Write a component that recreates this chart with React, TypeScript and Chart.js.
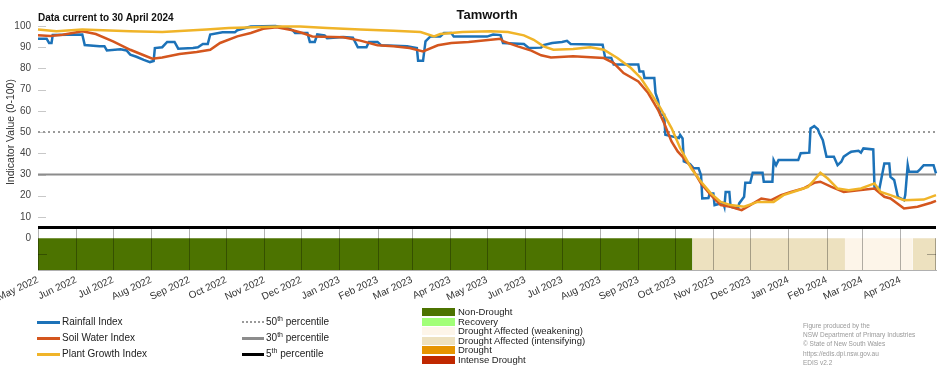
import React, { useEffect, useRef } from "react";
import { Chart, registerables } from "chart.js";
Chart.register(...registerables);

const FONT = "'Liberation Sans', Arial, Helvetica, sans-serif";
const START = Date.UTC(2022, 4, 1);
const dayOf = (s: string) => {
  const [y, m, d] = s.split("-").map(Number);
  return (Date.UTC(y, m - 1, d) - START) / 86400000;
};

const chartTitle = "Tamworth";
const subTitle = "Data current to 30 April 2024";
const yTitle = "Indicator Value (0-100)";
const xStart = "2022-05-01";
const xEnd = "2024-04-30";

const tickDates = [
  "2022-05-01", "2022-06-01", "2022-07-01", "2022-08-01", "2022-09-01", "2022-10-01",
  "2022-11-01", "2022-12-01", "2023-01-01", "2023-02-01", "2023-03-01", "2023-04-01",
  "2023-05-01", "2023-06-01", "2023-07-01", "2023-08-01", "2023-09-01", "2023-10-01",
  "2023-11-01", "2023-12-01", "2024-01-01", "2024-02-01", "2024-03-01", "2024-04-01",
];
const tickLabels = [
  "May 2022", "Jun 2022", "Jul 2022", "Aug 2022", "Sep 2022", "Oct 2022",
  "Nov 2022", "Dec 2022", "Jan 2023", "Feb 2023", "Mar 2023", "Apr 2023",
  "May 2023", "Jun 2023", "Jul 2023", "Aug 2023", "Sep 2023", "Oct 2023",
  "Nov 2023", "Dec 2023", "Jan 2024", "Feb 2024", "Mar 2024", "Apr 2024",
];
const yTicks = [0, 10, 20, 30, 40, 50, 60, 70, 80, 90, 100];

const rainfallDates = [
  "2022-05-01", "2022-05-08", "2022-05-10", "2022-05-12", "2022-05-13", "2022-06-06", "2022-06-08",
  "2022-06-20", "2022-06-24", "2022-06-26", "2022-07-07", "2022-07-12", "2022-07-15", "2022-07-20",
  "2022-07-26", "2022-07-31", "2022-08-03", "2022-08-04", "2022-08-10", "2022-08-14", "2022-08-20",
  "2022-08-23", "2022-09-04", "2022-09-08", "2022-09-12", "2022-09-16", "2022-09-18", "2022-09-28",
  "2022-10-08", "2022-10-10", "2022-10-21", "2022-11-10", "2022-11-20", "2022-11-24", "2022-11-26",
  "2022-12-06", "2022-12-08", "2022-12-12", "2022-12-14", "2022-12-20", "2022-12-22", "2023-01-04",
  "2023-01-12", "2023-01-16", "2023-01-23", "2023-01-25", "2023-02-01", "2023-02-04", "2023-02-25",
  "2023-03-05", "2023-03-06", "2023-03-10", "2023-03-12", "2023-03-16", "2023-03-24", "2023-03-27",
  "2023-04-02", "2023-04-04", "2023-05-01", "2023-05-06", "2023-05-12", "2023-05-14", "2023-05-31",
  "2023-06-04", "2023-06-14", "2023-06-16", "2023-06-23", "2023-07-01", "2023-07-05", "2023-07-08",
  "2023-08-03", "2023-08-05", "2023-08-10", "2023-08-12", "2023-09-01", "2023-09-02", "2023-09-05",
  "2023-09-06", "2023-09-14", "2023-09-15", "2023-09-17", "2023-09-19", "2023-09-22", "2023-09-23",
  "2023-10-04", "2023-10-05", "2023-10-07", "2023-10-08", "2023-10-13", "2023-10-16", "2023-10-20",
  "2023-10-22", "2023-10-23", "2023-10-28", "2023-10-29", "2023-11-01", "2023-11-02", "2023-11-09",
  "2023-11-10", "2023-11-11", "2023-11-14", "2023-11-15", "2023-11-21", "2023-11-22", "2023-11-26",
  "2023-11-27", "2023-12-01", "2023-12-03", "2023-12-11", "2023-12-12", "2023-12-19", "2023-12-20",
  "2023-12-22", "2023-12-24", "2024-01-09", "2024-01-11", "2024-01-18", "2024-01-19", "2024-01-22",
  "2024-01-25", "2024-01-26", "2024-01-29", "2024-02-01", "2024-02-07", "2024-02-10", "2024-02-13",
  "2024-02-15", "2024-02-19", "2024-02-21", "2024-02-27", "2024-02-29", "2024-03-02", "2024-03-10",
  "2024-03-11", "2024-03-15", "2024-03-19", "2024-03-23", "2024-03-24", "2024-03-27", "2024-03-30",
  "2024-04-04", "2024-04-05", "2024-04-07", "2024-04-08", "2024-04-15", "2024-04-17", "2024-04-20",
  "2024-04-28", "2024-04-30",
];
const rainfallValues = [
  94, 94, 92, 92, 95.8, 96, 91,
  90.5, 90.5, 88.5, 89, 88.5, 86.5, 85.5,
  84, 83, 83.5, 89.6, 90, 92.5, 92.5,
  89.3, 89.6, 90, 91.5, 91.5, 96, 97,
  97, 98, 99.8, 100, 99, 98, 96.7,
  96.7, 92.5, 92.5, 96, 95.5, 94.3, 94.8,
  94.5, 90, 90, 92.5, 92.5, 90.9, 90.4,
  89.6, 83.6, 83.6, 92.8, 95.1, 95.1, 96.7,
  96.7, 95, 95, 96, 95.7, 92, 91.5,
  89.6, 89.8, 91, 92, 92.5, 93, 91.5,
  91.2, 85.2, 85, 81.8, 81.8, 78.6, 78.6,
  75.5, 75.5, 68.4, 65, 58.2, 58.2, 48.7,
  47.2, 48.7, 47, 36.2, 35, 32.9, 32.9,
  29.7, 18.7, 18.9, 21, 21, 15.6, 16.7,
  14.8, 21.8, 21.8, 14.8, 14, 16.4, 19.5,
  26.1, 26.1, 30.8, 30.8, 26.6, 26.6, 36.8,
  34.4, 36.8, 36.8, 40, 40.3, 51.7, 52.8,
  51.3, 49.7, 46.2, 38.4, 38.4, 34.4, 36,
  38.4, 40, 40.7, 41.2, 40.3, 42.3, 41.8,
  24.2, 23.4, 35.2, 35.2, 28.9, 27.4, 19.5,
  17.9, 20.3, 34.4, 31.3, 31.3, 32.4, 34.4,
  34.4, 30.5,
];

const soilDates = [
  "2022-05-01", "2022-05-11", "2022-05-21", "2022-06-06", "2022-06-17", "2022-07-01", "2022-07-15",
  "2022-07-26", "2022-08-02", "2022-08-10", "2022-08-24", "2022-09-07", "2022-09-18", "2022-09-26",
  "2022-10-10", "2022-10-21", "2022-10-31", "2022-11-11", "2022-11-24", "2022-12-02", "2022-12-10",
  "2023-01-04", "2023-01-18", "2023-02-01", "2023-02-14", "2023-02-27", "2023-03-10", "2023-03-22",
  "2023-04-02", "2023-04-16", "2023-05-04", "2023-05-12", "2023-05-14", "2023-05-26", "2023-06-06",
  "2023-06-14", "2023-06-22", "2023-07-10", "2023-08-04", "2023-08-12", "2023-08-20", "2023-09-01",
  "2023-09-09", "2023-09-17", "2023-09-22", "2023-09-28", "2023-10-03", "2023-10-08", "2023-10-14",
  "2023-10-22", "2023-10-30", "2023-11-07", "2023-11-15", "2023-11-24", "2023-12-01", "2023-12-10",
  "2023-12-18", "2023-12-26", "2024-01-03", "2024-01-13", "2024-01-22", "2024-01-27", "2024-02-05",
  "2024-02-15", "2024-02-27", "2024-03-11", "2024-03-19", "2024-03-24", "2024-04-04", "2024-04-15",
  "2024-04-26", "2024-04-30",
];
const soilValues = [
  95.6, 95.3, 95.9, 97.5, 96.2, 92.8, 88.8,
  86.2, 84.6, 85.2, 86.8, 87.7, 88.8, 92,
  95.1, 96.7, 98.7, 99.4, 98, 96.7, 95.1,
  94.7, 93.1, 90.9, 90.4, 89.6, 88, 90.9,
  92, 92.5, 93.5, 94, 92.8, 90.4, 88.4,
  86.2, 85.2, 85.7, 84.9, 82.5, 77.8, 73.9,
  68.4, 60.5, 54.2, 45.6, 40.9, 37.7, 33.6,
  25.8, 20.3, 15.6, 14.8, 13.2, 15.6, 18.7,
  17.9, 20.3, 21.8, 23.4, 26.1, 26.6, 24.2,
  21.8, 22.6, 23.4, 19.5, 18.7, 14, 14.8,
  16.7, 17.6,
];

const plantDates = [
  "2022-05-01", "2022-05-16", "2022-06-06", "2022-07-15", "2022-08-10", "2022-09-15", "2022-10-03",
  "2022-10-31", "2022-11-14", "2022-11-30", "2022-12-22", "2023-01-18", "2023-02-14", "2023-03-08",
  "2023-03-19", "2023-03-24", "2023-04-11", "2023-05-04", "2023-05-18", "2023-05-31", "2023-06-08",
  "2023-06-16", "2023-06-24", "2023-07-10", "2023-07-24", "2023-08-04", "2023-08-15", "2023-08-26",
  "2023-09-03", "2023-09-11", "2023-09-19", "2023-09-28", "2023-10-05", "2023-10-11", "2023-10-14",
  "2023-10-22", "2023-10-30", "2023-11-07", "2023-11-15", "2023-11-26", "2023-12-07", "2023-12-20",
  "2023-12-28", "2024-01-09", "2024-01-17", "2024-01-22", "2024-01-27", "2024-02-02", "2024-02-10",
  "2024-02-19", "2024-02-29", "2024-03-11", "2024-03-16", "2024-03-24", "2024-04-04", "2024-04-20",
  "2024-04-30",
];
const plantValues = [
  98.3, 97.5, 98.3, 97.5, 97.2, 98.3, 99,
  99.5, 99.8, 99.8, 99, 98.3, 97.8, 97.2,
  95.1, 96.2, 97.2, 97.5, 97.2, 95.6, 93.5,
  90.4, 88.8, 89.2, 90, 88.8, 84.9, 80.2,
  75.5, 68.4, 61.3, 51.9, 42.5, 36.2, 32.9,
  26.6, 21.1, 17.1, 15.6, 14.8, 17.1, 17.1,
  20.3, 22.6, 24.2, 27.4, 30.8, 28.1, 23.4,
  22.6, 23.4, 25.8, 21.8, 20.3, 17.9, 18.2,
  20.3,
];

const percentileValues = [50, 30, 5];
const percentileLabels = ["50", "30", "5"];

const droughtStarts = ["2022-05-01", "2023-10-15", "2024-02-16", "2024-04-11"];
const droughtEnds = ["2023-10-15", "2024-02-16", "2024-04-11", "2024-04-30"];
const droughtSegCategories = [
  "Non-Drought",
  "Drought Affected (intensifying)",
  "Drought Affected (weakening)",
  "Drought Affected (intensifying)",
];
const droughtBarTop = 0;
const droughtBarBottom = -15;

const categoryNames = [
  "Non-Drought",
  "Recovery",
  "Drought Affected (weakening)",
  "Drought Affected (intensifying)",
  "Drought",
  "Intense Drought",
];
const categoryColors = ["#4c7300", "#a2ff78", "#fdf5e9", "#ede1bf", "#e69400", "#c02800"];

const seriesNames = ["Rainfall Index", "Soil Water Index", "Plant Growth Index"];
const seriesColors = ["#1c72b8", "#d4561e", "#f0b429"];

const creditLines = [
  "Figure produced by the",
  "NSW Department of Primary Industries",
  "\u00a9 State of New South Wales",
  "https://edis.dpi.nsw.gov.au",
  "EDIS v2.2",
];

const toPts = (dates: string[], vals: number[]) => dates.map((d, i) => ({ x: dayOf(d), y: vals[i] }));

const decorPlugin = {
  id: "decor",
  beforeDatasetsDraw(chart: any) {
    const { ctx, chartArea, scales } = chart;
    const y = scales.y;
    ctx.save();
    ctx.strokeStyle = "#c8c8c8";
    ctx.lineWidth = 1;
    for (const v of yTicks) {
      if (v === 0) continue;
      const py = Math.round(y.getPixelForValue(v)) + 0.5;
      ctx.beginPath();
      ctx.moveTo(chartArea.left, py);
      ctx.lineTo(chartArea.left + 8, py);
      ctx.stroke();
    }
    ctx.restore();
  },
  afterDatasetsDraw(chart: any) {
    const { ctx, chartArea, scales } = chart;
    const x = scales.x;
    const y = scales.y;
    ctx.save();
    const top = y.getPixelForValue(5) + 1.5;
    const bot = y.getPixelForValue(droughtBarBottom);
    ctx.strokeStyle = "rgba(0,0,0,0.3)";
    ctx.lineWidth = 1;
    for (const d of tickDates) {
      const px = Math.round(x.getPixelForValue(dayOf(d))) + 0.5;
      ctx.beginPath();
      ctx.moveTo(px, top);
      ctx.lineTo(px, bot);
      ctx.stroke();
    }
    const pr = Math.round(chartArea.right) - 0.5;
    ctx.beginPath();
    ctx.moveTo(pr, y.getPixelForValue(droughtBarTop));
    ctx.lineTo(pr, bot);
    ctx.stroke();
    const mid = Math.round(y.getPixelForValue((droughtBarTop + droughtBarBottom) / 2)) + 0.5;
    ctx.beginPath();
    ctx.moveTo(chartArea.left, mid);
    ctx.lineTo(chartArea.left + 9, mid);
    ctx.moveTo(chartArea.right - 9, mid);
    ctx.lineTo(chartArea.right, mid);
    ctx.stroke();
    ctx.restore();
  },
  afterDraw(chart: any) {
    const { ctx, chartArea, scales } = chart;
    const y = scales.y;
    ctx.save();
    ctx.fillStyle = "#111";
    ctx.textBaseline = "middle";
    ctx.font = `bold 13px ${FONT}`;
    ctx.textAlign = "center";
    ctx.fillText(chartTitle, (chartArea.left + chartArea.right) / 2, 15);
    ctx.font = `bold 10px ${FONT}`;
    ctx.textAlign = "left";
    ctx.fillText(subTitle, chartArea.left, 18);
    ctx.fillStyle = "#333";
    ctx.font = `10.5px ${FONT}`;
    ctx.translate(11, (y.getPixelForValue(0) + y.getPixelForValue(100)) / 2);
    ctx.rotate(-Math.PI / 2);
    ctx.textAlign = "center";
    ctx.fillText(yTitle, 0, 0);
    ctx.restore();
  },
};

function ChartCanvas() {
  const ref = useRef<HTMLCanvasElement | null>(null);
  useEffect(() => {
    if (!ref.current) return;
    const xMin = dayOf(xStart);
    const xMax = dayOf(xEnd);
    const lineDs = (i: number, dates: string[], vals: number[], order: number) => ({
      label: seriesNames[i],
      data: toPts(dates, vals),
      borderColor: seriesColors[i],
      backgroundColor: seriesColors[i],
      borderWidth: 2.5,
      pointRadius: 0,
      tension: 0,
      fill: false,
      order,
      clip: 4,
    });
    const pctStyles = [
      { color: "#9a9a9a", width: 2, dash: [2, 3] },
      { color: "#8c8c8c", width: 2, dash: [] },
      { color: "#000000", width: 3, dash: [] },
    ];
    const pctDs = percentileValues.map((v, i) => ({
      label: percentileLabels[i] + "th percentile",
      data: [{ x: xMin, y: v }, { x: xMax, y: v }],
      borderColor: pctStyles[i].color,
      borderWidth: pctStyles[i].width,
      borderDash: pctStyles[i].dash,
      pointRadius: 0,
      fill: false,
      order: 5,
      clip: 0,
    }));
    const barDs = droughtStarts.map((s, i) => {
      const c = categoryColors[categoryNames.indexOf(droughtSegCategories[i])];
      return {
        label: droughtSegCategories[i],
        data: [{ x: dayOf(s), y: droughtBarTop }, { x: dayOf(droughtEnds[i]), y: droughtBarTop }],
        borderWidth: 0,
        borderColor: c,
        backgroundColor: c,
        pointRadius: 0,
        fill: { value: droughtBarBottom },
        order: 10,
      };
    });
    const chart = new Chart(ref.current, {
      type: "line",
      data: {
        datasets: [
          lineDs(2, plantDates, plantValues, 0),
          lineDs(1, soilDates, soilValues, 1),
          lineDs(0, rainfallDates, rainfallValues, 2),
          ...pctDs,
          ...barDs,
        ] as any,
      },
      options: {
        responsive: false,
        animation: false,
        events: [],
        layout: { padding: { left: 0, right: 16, top: 26, bottom: 68 } },
        plugins: {
          legend: { display: false },
          title: { display: false },
          tooltip: { enabled: false },
        },
        scales: {
          x: {
            type: "linear",
            min: xMin,
            max: xMax,
            grid: { display: false, drawTicks: false },
            border: { display: true, color: "#b0b0b0", width: 1 },
            afterBuildTicks: (s: any) => {
              s.ticks = tickDates.map((d) => ({ value: dayOf(d) }));
            },
            afterFit: (s: any) => {
              s.height = 32;
              s.paddingLeft = 0;
              s.paddingRight = 0;
            },
            ticks: {
              autoSkip: false,
              minRotation: 25,
              maxRotation: 25,
              padding: 4,
              color: "#333",
              font: { family: FONT, size: 10 },
              callback: (v: any) => {
                const i = tickDates.findIndex((d) => dayOf(d) === v);
                return i >= 0 ? tickLabels[i] : "";
              },
            },
          },
          y: {
            type: "linear",
            min: droughtBarBottom,
            max: 100,
            grid: { display: false, drawTicks: false },
            border: { display: false },
            afterBuildTicks: (s: any) => {
              s.ticks = yTicks.map((v) => ({ value: v }));
            },
            afterFit: (s: any) => {
              s.width = 38;
              s.paddingTop = 0;
              s.paddingBottom = 0;
            },
            ticks: {
              padding: 7,
              color: "#444",
              font: { family: FONT, size: 10 },
            },
          },
        },
      } as any,
      plugins: [decorPlugin],
    });
    return () => chart.destroy();
  }, []);
  return <canvas ref={ref} width={952} height={370} style={{ display: "block" }} />;
}

const txt: React.CSSProperties = {
  position: "absolute",
  fontFamily: FONT,
  color: "#222",
  whiteSpace: "nowrap",
  lineHeight: "12px",
};

export default function App() {
  const rowY = [322, 338, 354];
  const pctStyles = [
    { borderTop: "2px dotted #9a9a9a" },
    { borderTop: "3px solid #8c8c8c" },
    { borderTop: "3px solid #000" },
  ];
  const boxY = [312, 321.5, 331, 340.5, 350, 359.5];
  const creditY = [326, 335, 344, 353.5, 362.5];
  return (
    <div style={{ position: "fixed", left: 0, top: 0, width: 952, height: 370, background: "#fff", overflow: "hidden" }}>
      <ChartCanvas />
      {seriesNames.map((n, i) => (
        <React.Fragment key={n}>
          <div style={{ position: "absolute", left: 37, top: rowY[i] - 1.5, width: 23, height: 0, borderTop: `3px solid ${seriesColors[i]}` }} />
          <div style={{ ...txt, left: 62, top: rowY[i] - 6, fontSize: 10 }}>{n}</div>
        </React.Fragment>
      ))}
      {percentileLabels.map((p, i) => (
        <React.Fragment key={p}>
          <div style={{ position: "absolute", left: 242, top: rowY[i] - 1.5, width: 22, height: 0, ...pctStyles[i] }} />
          <div style={{ ...txt, left: 266, top: rowY[i] - 6, fontSize: 10 }}>
            {p}
            <sup style={{ fontSize: 7, lineHeight: 0, verticalAlign: "4px" }}>th</sup> percentile
          </div>
        </React.Fragment>
      ))}
      {categoryNames.map((c, i) => (
        <React.Fragment key={c}>
          <div style={{ position: "absolute", left: 422, top: boxY[i] - 4, width: 33, height: 8, background: categoryColors[i] }} />
          <div style={{ ...txt, left: 458, top: boxY[i] - 6, fontSize: 9.5 }}>{c}</div>
        </React.Fragment>
      ))}
      {creditLines.map((l, i) => (
        <div key={l} style={{ ...txt, left: 803, top: creditY[i] - 5, fontSize: 6.5, color: "#999", lineHeight: "10px" }}>
          {l}
        </div>
      ))}
    </div>
  );
}
